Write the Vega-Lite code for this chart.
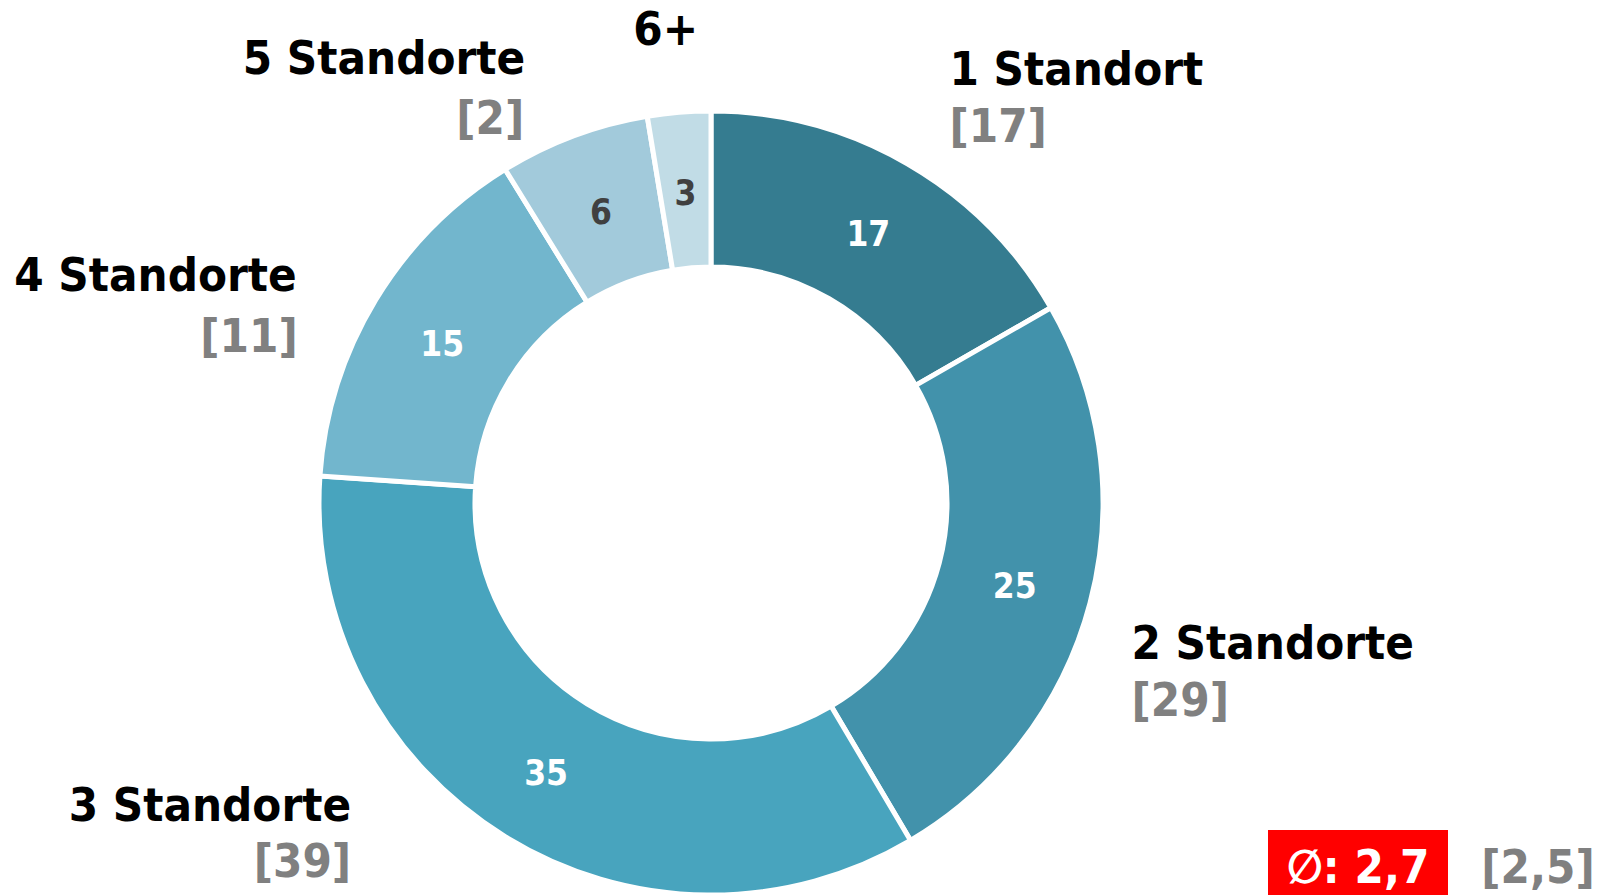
{
  "$schema": "https://vega.github.io/schema/vega-lite/v6.json",
  "autosize": "none",
  "width": 1422,
  "height": 784,
  "padding": {"left": 0, "top": 111, "right": 186, "bottom": 0},
  "background": "white",
  "config": {"view": {"stroke": null}, "font": "DejaVu Sans Condensed"},
  "datasets": {
    "shares": [
      {"k": 1, "name": "1 Standort", "v": 16.7, "prev": "[17]"},
      {"k": 2, "name": "2 Standorte", "v": 24.8, "prev": "[29]"},
      {"k": 3, "name": "3 Standorte", "v": 34.6, "prev": "[39]"},
      {"k": 4, "name": "4 Standorte", "v": 15.1, "prev": "[11]"},
      {"k": 5, "name": "5 Standorte", "v": 6.2, "prev": "[2]"},
      {"k": 6, "name": "6+", "v": 2.6, "prev": ""}
    ],
    "avg": [
      {"label": "∅: 2,7", "prev": "[2,5]"}
    ]
  },
  "layer": [
    {
      "data": {"name": "shares"},
      "encoding": {
        "theta": {"field": "v", "type": "quantitative", "stack": true},
        "order": {"field": "k", "type": "quantitative", "sort": "ascending"}
      },
      "layer": [
        {
          "mark": {"type": "arc", "outerRadius": 392, "innerRadius": 236, "stroke": "#ffffff", "strokeWidth": 5},
          "encoding": {
            "color": {
              "field": "name",
              "type": "nominal",
              "scale": {
                "domain": ["1 Standort", "2 Standorte", "3 Standorte", "4 Standorte", "5 Standorte", "6+"],
                "range": ["#357C90", "#4292AB", "#48A4BE", "#72B6CD", "#A2CADB", "#C1DCE6"]
              },
              "legend": null
            }
          }
        },
        {
          "mark": {"type": "text", "radius": 314, "fontSize": 35, "fontWeight": "bold", "align": "center", "baseline": "middle", "dy": 4},
          "encoding": {
            "text": {"field": "v", "type": "quantitative", "format": ".0f"},
            "color": {"condition": {"test": "datum.v < 10", "value": "#404040"}, "value": "#ffffff"}
          }
        },
        {
          "mark": {
            "type": "text", "radius": 470, "fontSize": 47, "fontWeight": "bold", "fill": "#000000", "baseline": "middle",
            "align": {"expr": "datum.k <= 2 ? 'left' : (datum.k == 6 ? 'center' : 'right')"},
            "dx": {"expr": "datum.k == 1 ? 3 : datum.k == 2 ? -34 : datum.k == 3 ? -113 : datum.k == 4 ? -12 : datum.k == 5 ? -21 : -7"},
            "dy": {"expr": "datum.k == 1 ? -25 : datum.k == 2 ? 22 : datum.k == 3 ? -96 : datum.k == 4 ? 17 : datum.k == 5 ? -3 : -4"}
          },
          "encoding": {"text": {"field": "name", "type": "nominal"}}
        },
        {
          "mark": {
            "type": "text", "radius": 470, "fontSize": 47, "fontWeight": "bold", "fill": "#808080", "baseline": "middle",
            "align": {"expr": "datum.k <= 2 ? 'left' : (datum.k == 6 ? 'center' : 'right')"},
            "dx": {"expr": "datum.k == 1 ? 3 : datum.k == 2 ? -34 : datum.k == 3 ? -113 : datum.k == 4 ? -11 : datum.k == 5 ? -22 : 0"},
            "dy": {"expr": "datum.k == 1 ? 32 : datum.k == 2 ? 79 : datum.k == 3 ? -40 : datum.k == 4 ? 78 : datum.k == 5 ? 57 : 0"}
          },
          "encoding": {"text": {"field": "prev", "type": "nominal"}}
        }
      ]
    },
    {
      "data": {"name": "avg"},
      "layer": [
        {
          "mark": {"type": "rect", "fill": "#ff0000"},
          "encoding": {"x": {"value": 1268}, "x2": {"value": 1448}, "y": {"value": 719}, "y2": {"value": 800}}
        },
        {
          "mark": {"type": "text", "fontSize": 47, "fontWeight": "bold", "fill": "#ffffff", "align": "center", "baseline": "middle"},
          "encoding": {"x": {"value": 1358}, "y": {"value": 758}, "text": {"field": "label", "type": "nominal"}}
        },
        {
          "mark": {"type": "text", "fontSize": 47, "fontWeight": "bold", "fill": "#808080", "align": "center", "baseline": "middle"},
          "encoding": {"x": {"value": 1538}, "y": {"value": 758}, "text": {"field": "prev", "type": "nominal"}}
        }
      ]
    }
  ]
}
